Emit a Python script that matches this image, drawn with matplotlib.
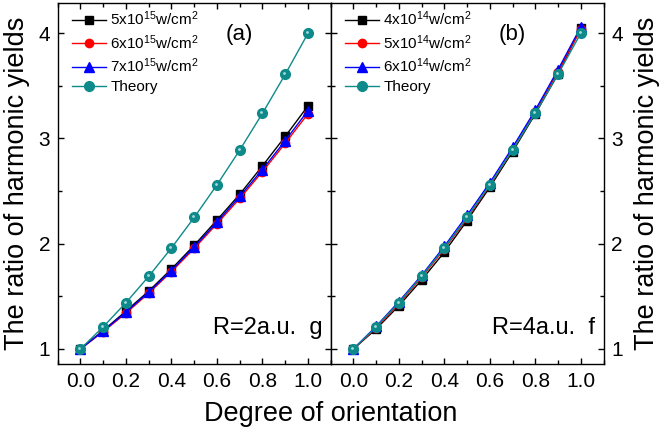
import matplotlib
matplotlib.use("Agg")
import matplotlib.pyplot as plt
from matplotlib.ticker import MultipleLocator
from matplotlib.transforms import offset_copy

plt.rcParams['font.family'] = ['Liberation Sans', 'DejaVu Sans']
plt.rcParams['mathtext.fontset'] = 'custom'
plt.rcParams['mathtext.rm'] = 'Liberation Sans'
plt.rcParams['mathtext.it'] = 'Liberation Sans:italic'

x = [0.0, 0.1, 0.2, 0.3, 0.4, 0.5, 0.6, 0.7, 0.8, 0.9, 1.0]

# Panel (a): R = 2 a.u.
a_5e15 = [1.0, 1.175, 1.36, 1.55, 1.76, 1.985, 2.225, 2.47, 2.74, 3.02, 3.31]
a_6e15 = [1.0, 1.165, 1.34, 1.53, 1.735, 1.955, 2.19, 2.43, 2.685, 2.955, 3.235]
a_7e15 = [1.0, 1.17, 1.35, 1.54, 1.745, 1.97, 2.205, 2.45, 2.705, 2.98, 3.265]
a_theory = [1.0, 1.21, 1.44, 1.69, 1.96, 2.25, 2.56, 2.89, 3.24, 3.61, 4.0]

# Panel (b): R = 4 a.u.
b_4e14 = [1.0, 1.19, 1.41, 1.656, 1.92, 2.22, 2.537, 2.875, 3.234, 3.614, 4.048]
b_5e14 = [1.0, 1.2, 1.43, 1.68, 1.95, 2.24, 2.555, 2.89, 3.25, 3.635, 4.04]
b_6e14 = [1.0, 1.215, 1.45, 1.70, 1.975, 2.27, 2.58, 2.915, 3.27, 3.655, 4.06]
b_theory = [1.0, 1.21, 1.44, 1.69, 1.96, 2.25, 2.56, 2.89, 3.24, 3.61, 4.0]

labels_a = [r'5x10$^{\mathregular{15}}$w/cm$^{\mathregular{2}}$',
            r'6x10$^{\mathregular{15}}$w/cm$^{\mathregular{2}}$',
            r'7x10$^{\mathregular{15}}$w/cm$^{\mathregular{2}}$',
            'Theory']
labels_b = [r'4x10$^{\mathregular{14}}$w/cm$^{\mathregular{2}}$',
            r'5x10$^{\mathregular{14}}$w/cm$^{\mathregular{2}}$',
            r'6x10$^{\mathregular{14}}$w/cm$^{\mathregular{2}}$',
            'Theory']

TEAL = '#0e8a8a'
fig = plt.figure(figsize=(6.59, 4.33), dpi=100)
axL = fig.add_axes([0.0876, 0.1594, 0.4143, 0.833])
axR = fig.add_axes([0.5018, 0.1594, 0.414, 0.833])


def draw(ax, s1, s2, s3, th, labels):
    ax.plot(x, s1, '-s', color='black', lw=1.0, ms=6, label=labels[0], zorder=3)
    ax.plot(x, s2, '-o', color='red', lw=1.0, ms=6, label=labels[1], zorder=3)
    ax.plot(x, s3, '-^', color='blue', lw=1.0, ms=6.5, label=labels[2], zorder=3)
    ax.plot(x, th, '-o', color=TEAL, lw=1.0, ms=7, label=labels[3], zorder=4)
    tr = offset_copy(ax.transData, fig=fig, x=-1.0, y=1.0, units='dots')
    ax.plot(x, th, 'o', color='#a8dada', ms=2.0, mew=0, transform=tr, zorder=5)
    ax.set_xlim(-0.1, 1.1)
    ax.set_ylim(0.857, 4.285)
    ax.xaxis.set_major_locator(MultipleLocator(0.2))
    ax.xaxis.set_minor_locator(MultipleLocator(0.1))
    ax.yaxis.set_major_locator(MultipleLocator(1))
    ax.yaxis.set_minor_locator(MultipleLocator(0.5))
    ax.tick_params(which='both', direction='in', top=True, right=True,
                   labelsize=15, pad=5.5)
    ax.tick_params(which='major', length=4.5, width=1)
    ax.tick_params(which='minor', length=3, width=1)
    ax.set_xticks([0.0, 0.2, 0.4, 0.6, 0.8, 1.0])
    ax.set_xticklabels(['0.0', '0.2', '0.4', '0.6', '0.8', '1.0'])
    for sp in ax.spines.values():
        sp.set_linewidth(1.0)
    leg = ax.legend(loc='upper left', frameon=False, fontsize=11,
                    handlelength=2.2, handletextpad=0.3, labelspacing=0.33,
                    borderaxespad=0.0, bbox_to_anchor=(0.03, 1.0))
    return leg


draw(axL, a_5e15, a_6e15, a_7e15, a_theory, labels_a)
draw(axR, b_4e14, b_5e14, b_6e14, b_theory, labels_b)

axL.set_yticks([1, 2, 3, 4])
axL.set_yticklabels(['1', '2', '3', '4'])
axR.set_yticks([1, 2, 3, 4])
axR.set_yticklabels(['1', '2', '3', '4'])
axR.yaxis.tick_right()
axR.tick_params(which='both', left=True, right=True, labelleft=False, labelright=True)

axL.text(0.615, 0.943, '(a)', transform=axL.transAxes, fontsize=16, va='top')
axR.text(0.615, 0.943, '(b)', transform=axR.transAxes, fontsize=16, va='top')
axL.text(0.97, 0.07, 'R=2a.u.  g', transform=axL.transAxes, fontsize=17,
         ha='right', va='bottom')
axR.text(0.97, 0.07, 'R=4a.u.  f', transform=axR.transAxes, fontsize=17,
         ha='right', va='bottom')

axL.set_ylabel('The ratio of harmonic yields', fontsize=19.5, labelpad=6)
axR.set_ylabel('The ratio of harmonic yields', fontsize=19.5, labelpad=8,
               rotation=90)
axR.yaxis.set_label_position('right')
fig.text(0.5018, 0.028, 'Degree of orientation', fontsize=19.5,
         ha='center', va='baseline')

fig.savefig('out.png', dpi=100)
